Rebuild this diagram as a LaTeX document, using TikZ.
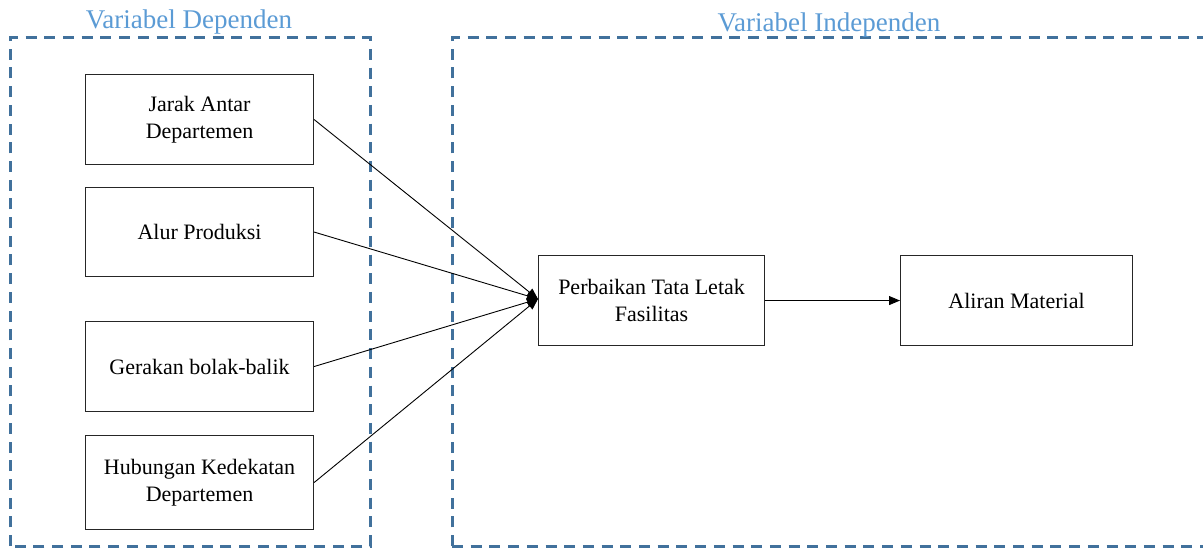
\documentclass[tikz,border=0pt]{standalone}
\usepackage{fontspec}
\setmainfont{Liberation Serif}
\usetikzlibrary{arrows.meta}
\definecolor{dashblue}{HTML}{41719C}
\definecolor{labelblue}{HTML}{5B9BD5}
\begin{document}
\begin{tikzpicture}[x=1pt,y=-1pt,
  box/.style={draw=black!85, line width=1.1pt, fill=white, minimum width=228pt, minimum height=90pt, align=center, font=\fontsize{22}{26.5}\selectfont, inner sep=0pt, anchor=north west},
  group/.style={draw=dashblue, line width=3pt, dash pattern=on 11pt off 7.7pt},
  conn/.style={draw=black, line width=0.9pt, -{Triangle[length=11pt,width=9pt]}},
  lbl/.style={text=labelblue, font=\fontsize{27}{30}\selectfont, inner sep=0pt}]
\useasboundingbox (0,0) rectangle (1203,548);
\fill[white] (0,0) rectangle (1203,548);
\draw[group] (10,546) -- (10,38) -- (370,38) -- (370,546) -- cycle;
\draw[group] (452,546) -- (452,38) -- (1203,38);
\draw[group] (452,546) -- (1203,546);
\node[lbl] (ldep) at (189,22) {Variabel Dependen};
\node[lbl] (lind) at (829,25) {Variabel Independen};
\node[box] (jarak) at (85,74) {Jarak Antar\\Departemen};
\node[box, minimum height=89pt] (alur) at (85,187) {Alur Produksi};
\node[box] (gerak) at (85,321) {Gerakan bolak-balik};
\node[box, minimum height=94pt] (hub) at (85,435) {Hubungan Kedekatan\\Departemen};
\node[box, minimum width=226pt] (perb) at (538,255) {Perbaikan Tata Letak\\Fasilitas};
\node[box, minimum width=232pt] (alir) at (900,255) {Aliran Material};
\coordinate (tip) at (538,299);
\draw[conn] (jarak.east) -- (tip);
\draw[conn] (alur.east) -- (tip);
\draw[conn] (gerak.east) -- (tip);
\draw[conn] (hub.east) -- (tip);
\draw[conn] (perb.east) -- (alir.west);
\end{tikzpicture}
\end{document}
